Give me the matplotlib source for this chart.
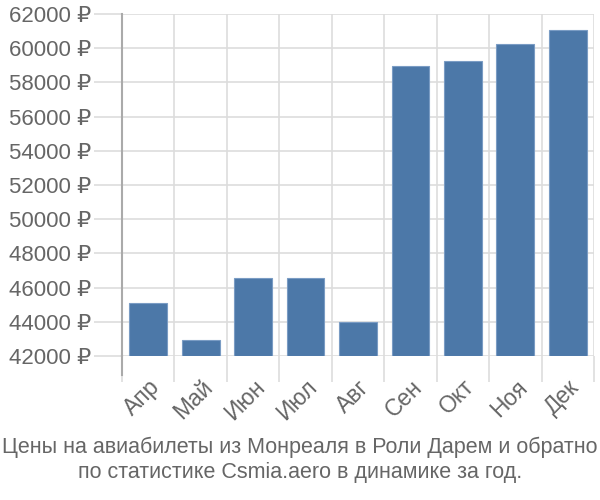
import numpy as np
import matplotlib.pyplot as plt
from matplotlib.ticker import FixedLocator

plt.rcParams["font.family"] = ["Liberation Sans", "DejaVu Sans"]

months = ["Апр", "Май", "Июн", "Июл", "Авг", "Сен", "Окт", "Ноя", "Дек"]
prices = [45080, 42940, 46570, 46570, 44010, 58950, 59230, 60250, 61070]
yticks = list(range(42000, 62001, 2000))
title = ("Цены на авиабилеты из Монреаля в Роли Дарем и обратно\n"
         "по статистике Csmia.aero в динамике за год.")

grid_c = "#dddddd"
text_c = "#666666"

fig = plt.figure(figsize=(6, 5), dpi=100)
ax = fig.add_axes([122/600, 1-356/500, (594-122)/600, (356-14)/500])

x = np.arange(len(months))
ax.bar(x, np.array(prices) - 42000, bottom=42000, width=0.72,
       color="#4c78a8", edgecolor="#7a9cc4", linewidth=0.8, zorder=3)

ax.set_xlim(-0.5, len(months) - 0.5)
ax.set_ylim(42000, 62000)
ax.set_yticks(yticks)
ax.set_yticklabels([f"{v} ₽" for v in yticks], fontsize=16, color=text_c)
ax.set_xticks(x)
ax.set_xticklabels(months, rotation=45, ha="right", rotation_mode="anchor",
                   fontsize=16.5, color=text_c)
ax.xaxis.set_minor_locator(FixedLocator(np.arange(-0.5, len(months), 1.0)))

ax.tick_params(axis="x", which="major", length=0, pad=14)
ax.tick_params(axis="x", which="minor", length=19, width=1.2, color=grid_c)
ax.tick_params(axis="y", which="major", length=20, width=1.2, color=grid_c, pad=2)

ax.grid(axis="y", which="major", color=grid_c, linewidth=1.2, zorder=0)
ax.grid(axis="x", which="minor", color=grid_c, linewidth=1.2, zorder=0)

for s in ["top", "right", "bottom"]:
    ax.spines[s].set_visible(False)
ax.spines["left"].set_color("#aaaaaa")
ax.spines["left"].set_linewidth(1.5)
ax.spines["left"].set_bounds(42000, 62000)
ax.plot([-0.5, -0.5], [0, -19/342], transform=ax.get_xaxis_transform(),
        clip_on=False, color="#aaaaaa", linewidth=1.5)

fig.text(0.5, 1-460/500, title, ha="center", va="center", fontsize=15.5,
         color=text_c, linespacing=1.25)

fig.savefig("out.png", dpi=100)
